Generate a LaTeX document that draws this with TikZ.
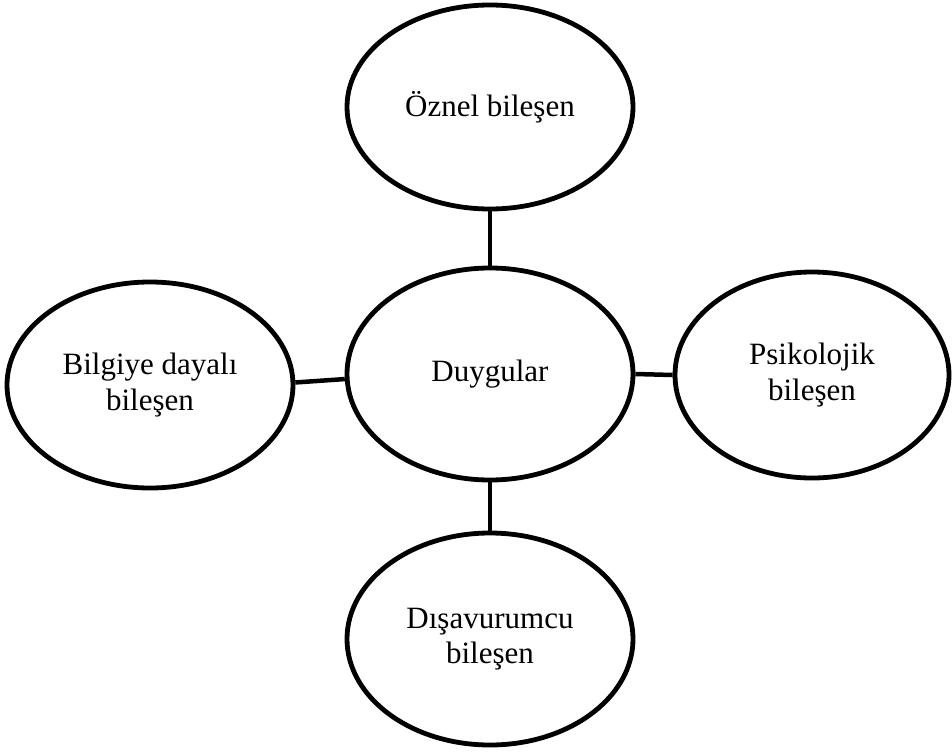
\documentclass[tikz,border=0pt]{standalone}
\usepackage{fontspec}
\setmainfont{Liberation Serif}
\usetikzlibrary{shapes.geometric}
\begin{document}
\begin{tikzpicture}[x=1pt,y=-1pt,
  oval/.style={ellipse,draw=black,line width=4.8pt,inner sep=0pt,
    minimum width=286pt,minimum height=206pt,align=center,
    font=\fontsize{31}{35.5}\selectfont},
  link/.style={draw=black,line width=4.5pt}]
\useasboundingbox (0,0) rectangle (952,752);
\node[oval,minimum height=212pt] (c) at (490,374) {Duygular};
\node[oval,minimum height=204pt] (t) at (490,107) {Öznel bileşen};
\node[oval] (l) at (150,385) {Bilgiye dayalı\\bileşen};
\node[oval,minimum width=274pt] (r) at (812,375) {Psikolojik\\bileşen};
\node[oval,minimum height=212pt] (b) at (490,639) {Dışavurumcu\\bileşen};
\draw[link] (t.south) -- (c.north);
\draw[link] (c.south) -- (b.north);
\draw[link] (l.1) -- (c.182);
\draw[link] (c.east) -- (r.west);
\end{tikzpicture}
\end{document}
